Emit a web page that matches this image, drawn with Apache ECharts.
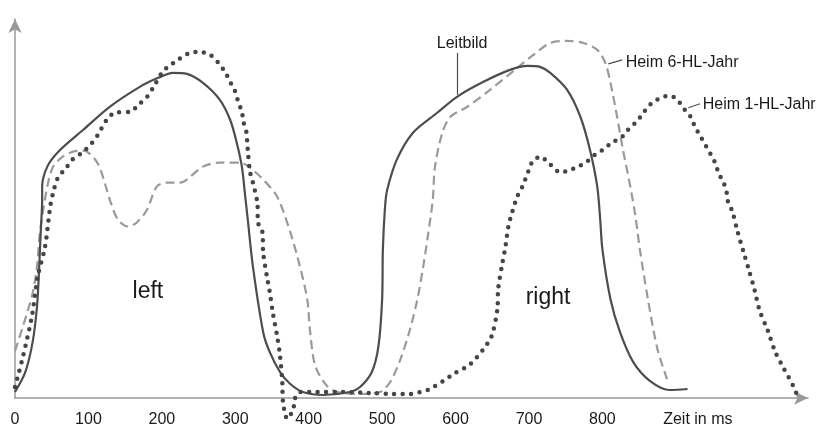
<!DOCTYPE html>
<html>
<head>
<meta charset="utf-8">
<script src="https://cdn.jsdelivr.net/npm/echarts@6/dist/echarts.min.js"></script>
<style>html,body{margin:0;padding:0;background:#fff}#c{width:816px;height:428px}</style>
</head>
<body>
<div id="c"></div>
<script>
// x values in ms, y values in arbitrary units
const leitbildX = [0,14,24,30,33,35,37,37,44,59,93,129,170,195,215,234,256,279,293,302,309,313,317,324,338,347,361,375,392,420,456,470,486,495,500,501,504,507,520,542,575,602,638,674,698,715,729,752,770,783,793,797,800,811,824,842,865,892,916];
const leitbildY = [6,26,56,92,132,166,199,212,232,247,269,292,312,321,326,325,316,299,279,256,232,206,179,132,66,46,26,14,6,3,6,11,26,52,99,149,192,209,239,266,286,302,317,329,333,332,326,309,282,249,212,179,149,99,66,36,17,8,9];

const heim6X = [0,23,30,34,44,52,65,79,93,112,125,129,140,154,166,180,193,207,225,234,256,279,307,320,338,357,375,388,398,402,409,425,439,470,497,511,525,538,548,556,563,569,572,582,593,616,647,684,706,729,752,774,793,804,811,820,828,838,845,851,862,875,888];
const heim6Y = [47,102,132,166,212,232,242,247,248,236,209,199,179,172,176,189,212,216,216,219,232,236,236,231,219,202,166,132,99,66,32,12,6,4,6,16,39,69,99,132,166,199,232,266,282,292,309,331,344,356,358,356,349,336,316,282,249,212,182,149,99,49,19];

const heim1X = [0,11,23,31,41,48,52,59,68,78,93,105,113,125,136,157,168,180,188,200,208,218,238,252,266,277,286,293,300,304,309,311,315,317,320,324,330,331,337,338,343,347,351,357,361,364,365,371,379,381,388,411,443,484,515,538,552,565,583,597,620,638,647,651,657,658,663,668,672,677,684,691,699,704,715,729,743,753,767,779,790,801,813,827,835,845,854,862,872,883,892,902,910,920,926,933,940,947,954,958,965,969,971,977,984,992,1000,1007,1014,1025,1035,1046,1060,1065];
const heim1Y = [11,42,82,122,152,192,206,222,229,239,247,256,264,279,286,287,294,302,311,326,332,337,346,347,344,336,327,317,307,297,287,277,267,249,227,216,196,176,166,146,122,106,86,62,42,16,-4,-21,-11,-1,6,6,6,5,4,4,6,9,17,24,34,49,59,66,89,109,132,152,172,186,202,212,227,236,242,234,226,228,232,237,244,249,256,262,269,276,284,292,298,302,303,299,291,282,272,263,254,245,235,226,216,207,197,187,167,147,127,109,88,68,47,31,12,3];

const tickValues = [0,100,200,300,400,500,600,700,800];
const axisTitle = 'Zeit in ms';

const labelTexts = ['Leitbild','Heim 6-HL-Jahr','Heim 1-HL-Jahr','left','right'];
const labelX = [609,831,936,181,726];
const labelY = [355,336.5,294,107,101];

const leaderLines = [
  [[602,346],[602,304]],
  [[808,335],[827,339]],
  [[917,291],[933,295]]
];

const FONT = "'Liberation Sans Narrow','Liberation Sans',Arial,sans-serif";
const chart = echarts.init(document.getElementById('c'));

function pairs(xs, ys){ return xs.map((x,i)=>[x, ys[i]]); }

const labelStyles = [
  {position:'inside', fontSize:16},
  {position:'right', fontSize:16, distance:0},
  {position:'right', fontSize:16, distance:0},
  {position:'inside', fontSize:23},
  {position:'inside', fontSize:23}
];

chart.setOption({
  animation:false,
  grid:{left:15, right:8, top:19, bottom:29},
  xAxis:{
    type:'value', min:0, max:1080, interval:100,
    axisLine:{show:true, symbol:['none','arrow'], symbolSize:[10,14], lineStyle:{color:'#9a9a9a', width:1.5}},
    axisTick:{show:false}, splitLine:{show:false},
    axisLabel:{
      margin:14, color:'#1a1a1a', fontSize:16, fontFamily:FONT,
      formatter:function(v){
        if (tickValues.indexOf(v) >= 0) return String(v);
        if (v === 900) return '{z|' + axisTitle + '}';
        return '';
      },
      rich:{z:{fontSize:16, fontFamily:FONT, color:'#1a1a1a', padding:[0,0,0,44]}}
    }
  },
  yAxis:{
    type:'value', min:0, max:380,
    axisLine:{show:true, symbol:['none','arrow'], symbolSize:[10,14], lineStyle:{color:'#9a9a9a', width:1.5}},
    axisTick:{show:false}, splitLine:{show:false}, axisLabel:{show:false}
  },
  series:[
    {
      type:'line', name:'Heim 6-HL-Jahr', data:pairs(heim6X, heim6Y), showSymbol:false, smooth:0.3, clip:false,
      lineStyle:{color:'#9a9a9a', width:2.2, type:[9,5]}
    },
    {
      type:'line', name:'Leitbild', data:pairs(leitbildX, leitbildY), showSymbol:false, smooth:0.3, clip:false,
      lineStyle:{color:'#4d4d4d', width:2.2},
      markLine:{
        silent:true, symbol:['none','none'], label:{show:false},
        lineStyle:{color:'#4d4d4d', width:1.2, type:'solid'},
        data: leaderLines.map(l => [{coord:l[0]},{coord:l[1]}])
      }
    },
    {
      type:'line', name:'Heim 1-HL-Jahr', data:pairs(heim1X, heim1Y), showSymbol:false, smooth:0.3, clip:false,
      lineStyle:{color:'#454545', width:4.5, type:[0,8.5], cap:'round'}
    },
    {
      type:'scatter', symbolSize:1, itemStyle:{color:'transparent', opacity:1}, silent:true, clip:false,
      data: labelTexts.map((t,i)=>({
        value:[labelX[i], labelY[i]], name:t,
        label:Object.assign({show:true, formatter:t, color:'#1a1a1a', opacity:1, fontFamily:FONT}, labelStyles[i])
      }))
    }
  ]
});
</script>
</body>
</html>
